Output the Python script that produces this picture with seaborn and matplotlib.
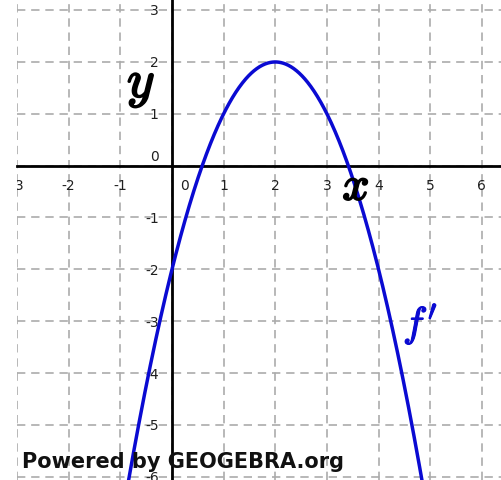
import numpy as np
import pandas as pd
import matplotlib
matplotlib.use("Agg")
import matplotlib.pyplot as plt
import matplotlib.patheffects as pe
from matplotlib.transforms import ScaledTranslation
import seaborn as sns

# Points on the graph of f' (x, f'(x))
fp_x = [-0.8, 0.0, 0.59, 1.0, 2.0, 3.0, 3.41, 4.0, 4.8]
fp_y = [-5.84, -2.0, 0.0, 1.0, 2.0, 1.0, 0.0, -2.0, -5.84]

x_ticks = [-3, -2, -1, 0, 1, 2, 3, 4, 5, 6]
x_tick_labels = ["-3", "-2", "-1", "0", "1", "2", "3", "4", "5", "6"]
y_ticks = [-6, -5, -4, -3, -2, -1, 0, 1, 2, 3]
y_tick_labels = ["-6", "-5", "-4", "-3", "-2", "-1", "0", "1", "2", "3"]

# f' is a parabola: fit it through the points and sample it densely
coef = np.polyfit(fp_x, fp_y, 2)
xs = np.linspace(-1.2, 5.2, 600)
curve = pd.DataFrame({"x": xs, "y": np.polyval(coef, xs)})

sns.set_style("white")
plt.rcParams["font.family"] = ["DejaVu Sans"]
plt.rcParams["mathtext.fontset"] = "cm"

fig = plt.figure(figsize=(5.01, 4.80), dpi=100)
ax = fig.add_axes([17 / 501, 0, 484 / 501, 1])

ax.set_xlim(-2.958, 6.37)
ax.set_ylim(-6.06, 3.19)

# dashed grid
for gx in x_ticks:
    ax.axvline(gx, color="#ababab", lw=1.2, ls=(0, (5, 3.5)), zorder=0)
for gy in y_ticks:
    ax.axhline(gy, color="#ababab", lw=1.2, ls=(0, (5, 3.5)), zorder=0)

sns.lineplot(data=curve, x="x", y="y", ax=ax, color="#0a0ad2", lw=2.5,
             sort=False, zorder=3)

# axes crossing at the origin
for side in ["top", "right"]:
    ax.spines[side].set_visible(False)
ax.spines["bottom"].set_position(("data", 0))
ax.spines["left"].set_position(("data", 0))
for side in ["bottom", "left"]:
    ax.spines[side].set_linewidth(2.0)
    ax.spines[side].set_color("black")
    ax.spines[side].set_zorder(2)

ax.set_xticks(x_ticks)
ax.set_xticklabels(x_tick_labels)
ax.set_yticks(y_ticks)
ax.set_yticklabels(y_tick_labels)
ax.tick_params(axis="both", direction="inout", length=5, width=1.6,
               color="black", labelsize=10, labelcolor="#202020")
ax.tick_params(axis="x", pad=7)
ax.tick_params(axis="y", pad=7)
ax.set_xlabel("")
ax.set_ylabel("")

# labels at the origin sit off the axis lines; clip labels to the view
for lbl in ax.get_xticklabels():
    lbl.set_clip_on(True)
    lbl.set_clip_box(ax.bbox)
    if lbl.get_text() == "0":
        lbl.set_transform(lbl.get_transform() +
                          ScaledTranslation(0.13, 0, fig.dpi_scale_trans))
for lbl in ax.get_yticklabels():
    if lbl.get_text() == "0":
        lbl.set_transform(lbl.get_transform() +
                          ScaledTranslation(0, 0.10, fig.dpi_scale_trans))

bold = [pe.withStroke(linewidth=1.4, foreground="black")]
ax.text(-0.60, 1.58, r"$y$", fontsize=38, ha="center", va="center",
        color="black", path_effects=bold, zorder=5)
ax.text(3.56, -0.42, r"$x$", fontsize=34, ha="center", va="center",
        color="black", path_effects=bold, zorder=5)
ax.text(4.81, -3.05, r"$f'$", fontsize=30, ha="center", va="center",
        color="#0a0ad2", path_effects=[pe.withStroke(linewidth=0.8, foreground="#0a0ad2")],
        zorder=5)

fig.text(22 / 501, 1 - 468 / 480, "Powered by GEOGEBRA.org", fontsize=15,
         fontweight="bold", color="#111111", ha="left", va="baseline")

fig.savefig("out.png", dpi=100)
